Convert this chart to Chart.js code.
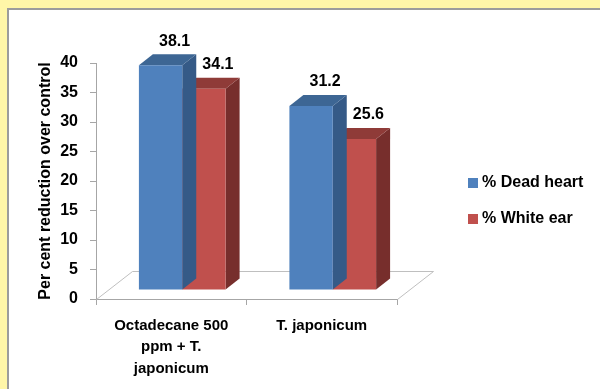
<!DOCTYPE html>
<html>
<head>
<meta charset="utf-8">
<script src="https://cdn.jsdelivr.net/npm/chart.js@4/dist/chart.umd.min.js"></script>
<style>
  html, body { margin: 0; padding: 0; width: 600px; height: 389px; overflow: hidden; background: #FFF6A8; }
  #panel { position: absolute; left: 7px; top: 8px; width: 591px; height: 379px; background: #fff;
           border-left: 2px solid #9c9c9c; border-top: 2px solid #9c9c9c; }
  canvas { display: block; }
</style>
</head>
<body>
<div id="panel"><canvas id="chart" width="591" height="379"></canvas></div>
<script>
// Treatments (multi-line category labels)
const categories = [["Octadecane 500", "ppm + T.", "japonicum"], "T. japonicum"];
// Per cent reduction over control
const deadHeart = [38.1, 31.2];
const whiteEar = [34.1, 25.6];
const seriesNames = ["% Dead heart", "% White ear"];
const yMin = 0, yMax = 40, yStep = 5;

const FONT = '"Liberation Sans", Arial, sans-serif';

// 3D projection: floor depth, bar depth and where the front faces sit inside the floor
const FLOOR = { x: 36, y: -28 };
const DEPTH = { x: 14, y: -11 };
const SHIFT = { x: 11, y: -9 };

const bars3d = {
  id: 'bars3d',
  beforeDatasetsDraw(chart) {
    const { ctx, chartArea: a } = chart;
    ctx.save();
    ctx.strokeStyle = '#BFBFBF';
    ctx.lineWidth = 1;
    ctx.beginPath();
    ctx.moveTo(a.left + 0.5, a.bottom + 0.5);
    ctx.lineTo(a.left + FLOOR.x + 0.5, a.bottom + FLOOR.y + 0.5);
    ctx.lineTo(a.right + FLOOR.x + 0.5, a.bottom + FLOOR.y + 0.5);
    ctx.lineTo(a.right + 0.5, a.bottom + 0.5);
    ctx.stroke();
    ctx.restore();
  },
  beforeDatasetDraw(chart, args) {
    const ctx = chart.ctx;
    const ds = chart.data.datasets[args.index];
    ctx.save();
    ctx.translate(SHIFT.x, SHIFT.y);
    args.meta.data.forEach(el => {
      const { x, y, base, width } = el.getProps(['x', 'y', 'base', 'width'], true);
      const l = x - width / 2, r = x + width / 2;
      // right side face
      ctx.fillStyle = ds.sideColor;
      ctx.beginPath();
      ctx.moveTo(r, y);
      ctx.lineTo(r + DEPTH.x, y + DEPTH.y);
      ctx.lineTo(r + DEPTH.x, base + DEPTH.y);
      ctx.lineTo(r, base);
      ctx.closePath();
      ctx.fill();
      // top face
      ctx.fillStyle = ds.topColor;
      ctx.beginPath();
      ctx.moveTo(l, y);
      ctx.lineTo(l + DEPTH.x, y + DEPTH.y);
      ctx.lineTo(r + DEPTH.x, y + DEPTH.y);
      ctx.lineTo(r, y);
      ctx.closePath();
      ctx.fill();
    });
    // front faces are drawn by Chart.js inside this translation
  },
  afterDatasetDraw(chart) {
    chart.ctx.restore();
  },
  afterDraw(chart) {
    const { ctx } = chart;
    ctx.save();
    // value labels above each bar
    ctx.font = 'bold 16px ' + FONT;
    ctx.fillStyle = '#000';
    ctx.textAlign = 'center';
    ctx.textBaseline = 'middle';
    chart.data.datasets.forEach((ds, i) => {
      chart.getDatasetMeta(i).data.forEach((el, j) => {
        const { x, y } = el.getProps(['x', 'y'], true);
        ctx.fillText(ds.data[j].toFixed(1), x + SHIFT.x + DEPTH.x, y + SHIFT.y + DEPTH.y - 13);
      });
    });
    // legend
    const a = chart.chartArea;
    chart.data.datasets.forEach((ds, i) => {
      const cy = 173 + i * 36;
      ctx.fillStyle = ds.backgroundColor;
      ctx.fillRect(a.right + 71, cy - 5, 10, 10);
      ctx.fillStyle = '#000';
      ctx.textAlign = 'left';
      ctx.fillText(ds.label, a.right + 85, cy);
    });
    ctx.restore();
  }
};

new Chart(document.getElementById('chart'), {
  type: 'bar',
  data: {
    labels: categories,
    datasets: [
      { label: seriesNames[0], data: deadHeart, backgroundColor: '#4F81BD',
        topColor: '#3D6694', sideColor: '#355A87' },
      { label: seriesNames[1], data: whiteEar, backgroundColor: '#C0504D',
        topColor: '#8F3B38', sideColor: '#772E2C' }
    ]
  },
  options: {
    responsive: false,
    animation: false,
    layout: { padding: { top: 53, right: 203, bottom: 0, left: 0 } },
    datasets: { bar: { categoryPercentage: 0.576, barPercentage: 1, borderWidth: 0, clip: false } },
    plugins: { legend: { display: false }, tooltip: { enabled: false } },
    scales: {
      x: {
        offset: true,
        grid: { display: true, drawOnChartArea: false, offset: true, tickLength: 6, color: '#A6A6A6' },
        border: { display: true, color: '#A6A6A6' },
        ticks: { color: '#000', font: { family: FONT, size: 15, weight: 'bold', lineHeight: 1.43 },
                 padding: 10, maxRotation: 0, autoSkip: false },
        afterFit(s) { s.height = 90; }
      },
      y: {
        min: yMin, max: yMax,
        ticks: { stepSize: yStep, color: '#000', font: { family: FONT, size: 16, weight: 'bold' }, padding: 12 },
        grid: { drawOnChartArea: false, tickLength: 6, color: '#A6A6A6' },
        border: { display: true, color: '#A6A6A6' },
        title: { display: true, text: 'Per cent reduction over control', color: '#000',
                 font: { family: FONT, size: 16, weight: 'bold' }, padding: { top: 27, bottom: 0 } },
        afterFit(s) { s.width = 87; }
      }
    }
  },
  plugins: [bars3d]
});
</script>
</body>
</html>
